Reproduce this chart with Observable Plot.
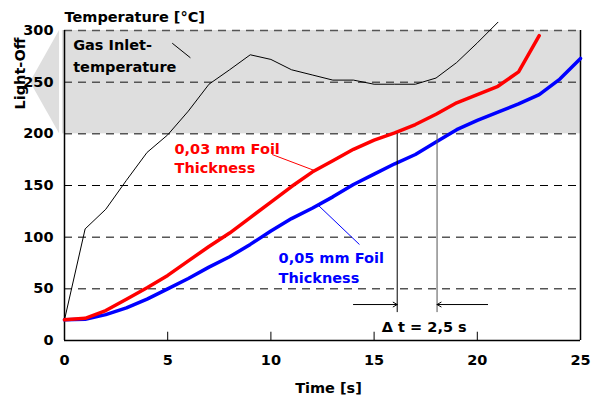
<!DOCTYPE html>
<html><head><meta charset="utf-8">
<script src="https://cdn.jsdelivr.net/npm/d3@7"></script>
<script src="https://cdn.jsdelivr.net/npm/@observablehq/plot@0.6"></script>
<style>body{margin:0;background:#fff} svg{display:block}</style>
</head><body><div id="chart"></div>
<script>
// ---- data ----
const time = [0,1,2,3,4,5,6,7,8,9,10,11,12,13,14,15,16,17,18,19,20,21,22,23,24,25];
const gasInletTemp = [20,108,127,155,182,199,222,248,262,276.5,272,262,257,252,252,248,248,248,254,269,288,308];
const foil003 = [20,21.5,29,40,51,63,77,91,104,119,134,149,163,174,185,194,201,209,219,230,238,246,260,295];
const foil005 = [20,20.5,25,31.5,40,50,60,71,81,93,106,118,128,139,151,161,171,180,192,204,213,221,229,238,253,273];
const xTicks = [0,5,10,15,20,25];
const yTicks = [0,50,100,150,200,250,300];
const gridBelow = [50,100,150];
const gridInBand = [200,250,300];
const innerTicks = [5,10,15,20];

// annotations
const lightOffBand = [{x1:-0.1, x2:25, y1:200, y2:300}];
const lightOffArrow = [{y:200, x1:-0.24, x2:-0.24},{y:250, x1:-1.65, x2:-0.24},{y:300, x1:-0.24, x2:-0.24}];
const gasLabel = [{x:0.42, y:259.6, text:"Gas Inlet-\ntemperature"}];
const gasLeader = [{x1:5.22, y1:287.7, x2:6.10, y2:273.6}];
const redLabel = [{x:5.33, y:162, text:"0,03 mm Foil\nThickness"}];
const redLeader = [{x1:10.06, y1:180, x2:12.11, y2:164.5}];
const blueLabel = [{x:10.37, y:55.2, text:"0,05 mm Foil\nThickness"}];
const blueLeader = [{x1:12.31, y1:130.6, x2:14.29, y2:92.9}];
const deltaLines = [{x:16.12, y1:200, y2:27, c:"#000"},{x:18.05, y1:200, y2:27, c:"#555"}];
const deltaArrows = [{x1:14.0, y1:34.8, x2:16.12, y2:34.8},{x1:20.5, y1:34.8, x2:18.05, y2:34.8}];
const deltaLabel = [{x:17.43, y:8.7, text:"Δ t = 2,5 s"}];
const yTitle = "Temperature [°C]";
const xTitle = "Time [s]";
const bandTitle = "Light-Off";

const rows = vals => vals.map((v,i)=>({t:time[i], v}));

const chart = Plot.plot({
  width:591, height:398,
  marginLeft:64, marginRight:11, marginTop:30, marginBottom:58,
  style:{fontFamily:"'DejaVu Sans', sans-serif", fontSize:"14.5px", fontWeight:"bold", color:"#000", background:"#fff"},
  x:{domain:[0,25]},
  y:{domain:[0,300]},
  marks:[
    Plot.rect(lightOffBand, {x1:"x1", x2:"x2", y1:"y1", y2:"y2", fill:"#dedede"}),
    Plot.areaX(lightOffArrow, {y:"y", x1:"x1", x2:"x2", fill:"#dedede"}),
    Plot.ruleY(gridBelow, {stroke:"#000", strokeWidth:1, strokeDasharray:"8,6"}),
    Plot.ruleY(gridInBand, {stroke:"#555", strokeWidth:1.5, strokeDasharray:"8,6"}),
    Plot.ruleX([0], {y1:0, y2:300, stroke:"#000", strokeWidth:1.5}),
    Plot.ruleX([25], {y1:0, y2:300, stroke:"#000", strokeWidth:1.5}),
    Plot.ruleY([0], {x1:0, x2:25, stroke:"#000", strokeWidth:1.5}),
    Plot.ruleX(innerTicks, {y1:0, y2:8, stroke:"#000", strokeWidth:1}),
    Plot.axisX({ticks:xTicks, tickSize:0, tickPadding:14, label:null}),
    Plot.axisY({ticks:yTicks, tickSize:0, tickPadding:11, label:null}),
    Plot.line(rows(gasInletTemp), {x:"t", y:"v", stroke:"#000", strokeWidth:1}),
    Plot.line(rows(foil005), {x:"t", y:"v", stroke:"#0000ff", strokeWidth:3.5, strokeLinejoin:"round"}),
    Plot.line(rows(foil003), {x:"t", y:"v", stroke:"#ff0000", strokeWidth:3.5, strokeLinejoin:"round"}),
    Plot.link(gasLeader, {x1:"x1", y1:"y1", x2:"x2", y2:"y2", stroke:"#000", strokeWidth:1}),
    Plot.link(redLeader, {x1:"x1", y1:"y1", x2:"x2", y2:"y2", stroke:"#ff0000", strokeWidth:1}),
    Plot.link(blueLeader, {x1:"x1", y1:"y1", x2:"x2", y2:"y2", stroke:"#0000ff", strokeWidth:1}),
    Plot.ruleX(deltaLines, {x:"x", y1:"y1", y2:"y2", stroke:"c", strokeWidth:1}),
    Plot.arrow(deltaArrows, {x1:"x1", y1:"y1", x2:"x2", y2:"y2", stroke:"#000", strokeWidth:1, headLength:7}),
    Plot.text(gasLabel, {x:"x", y:"y", text:"text", fill:"#000", textAnchor:"start", lineAnchor:"bottom", lineHeight:1.5}),
    Plot.text(redLabel, {x:"x", y:"y", text:"text", fill:"#ff0000", textAnchor:"start", lineAnchor:"bottom", lineHeight:1.35}),
    Plot.text(blueLabel, {x:"x", y:"y", text:"text", fill:"#0000ff", textAnchor:"start", lineAnchor:"bottom", lineHeight:1.4}),
    Plot.text(deltaLabel, {x:"x", y:"y", text:"text", fill:"#000", textAnchor:"middle", lineAnchor:"bottom"}),
    Plot.text([yTitle], {frameAnchor:"top-left", text:d=>d, dy:-9, textAnchor:"start", lineAnchor:"bottom"}),
    Plot.text([xTitle], {frameAnchor:"bottom", text:d=>d, dy:52, dx:6, lineAnchor:"bottom"}),
    Plot.text([bandTitle], {frameAnchor:"top-left", text:d=>d, dx:-44, dy:43, rotate:-90, textAnchor:"middle", lineAnchor:"middle"})
  ]
});
document.getElementById("chart").appendChild(chart);
</script>
</body></html>
